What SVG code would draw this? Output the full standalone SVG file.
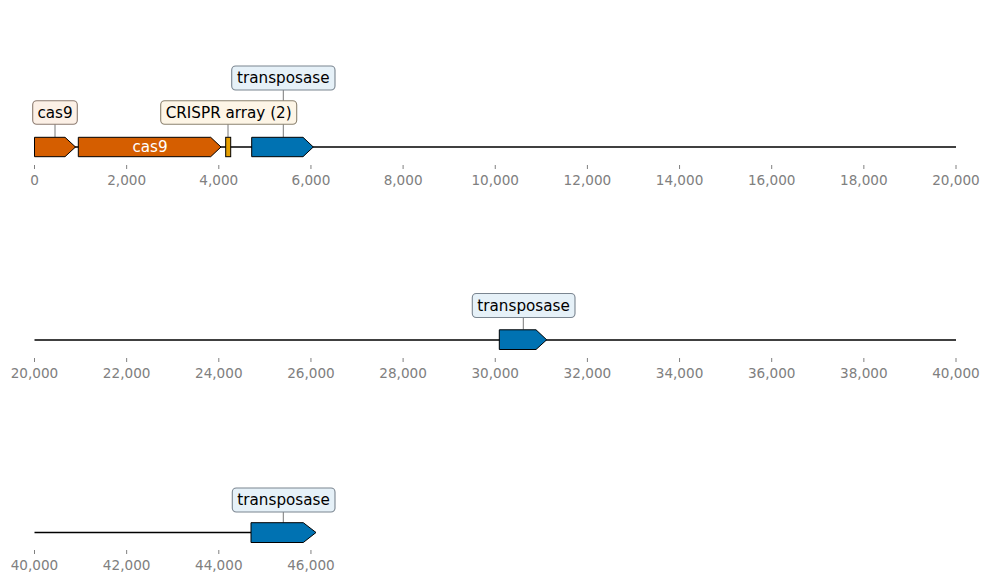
<svg xmlns="http://www.w3.org/2000/svg" width="989" height="584" viewBox="0 0 989 584">
<style>
text{font-family:"DejaVu Sans","Liberation Sans",sans-serif}
.tick{stroke:#808080;stroke-width:1}
.tl{font-size:13.6px;fill:#808080;text-anchor:middle}
.axis{stroke:#000;stroke-width:1.7;fill:none}
.feat{stroke:#000;stroke-width:1;stroke-linejoin:miter}
.lab{font-size:15.2px;fill:#000;text-anchor:middle}
.lead{stroke:#555;stroke-width:0.8}
.box{stroke-width:1.1}
</style>
<rect width="989" height="584" fill="#fff"/>
<g id="connectors">
<line class="lead" x1="55" y1="124" x2="55" y2="137"/>
<line class="lead" x1="228" y1="124" x2="228" y2="137"/>
<line class="lead" x1="283.3" y1="90" x2="283.3" y2="137"/>
<line class="lead" x1="523.3" y1="317.7" x2="523.3" y2="329.5"/>
<line class="lead" x1="283.3" y1="511.7" x2="283.3" y2="522.7"/>
</g>
<g id="row1">
<line class="axis" x1="34.5" y1="147" x2="956" y2="147"/>
<g id="ticks1">
<path class="tick" d="M34.5 165v4M126.65 165v4M218.8 165v4M310.95 165v4M403.1 165v4M495.25 165v4M587.4 165v4M679.55 165v4M771.7 165v4M863.85 165v4M956 165v4"/>
<text class="tl" x="34.5" y="185">0</text>
<text class="tl" x="126.65" y="185">2,000</text>
<text class="tl" x="218.8" y="185">4,000</text>
<text class="tl" x="310.95" y="185">6,000</text>
<text class="tl" x="403.1" y="185">8,000</text>
<text class="tl" x="495.25" y="185">10,000</text>
<text class="tl" x="587.4" y="185">12,000</text>
<text class="tl" x="679.55" y="185">14,000</text>
<text class="tl" x="771.7" y="185">16,000</text>
<text class="tl" x="863.85" y="185">18,000</text>
<text class="tl" x="956" y="185">20,000</text>
</g>
</g>
<g id="cas9_1">
<polygon class="feat" fill="#d55e00" points="34.5,137.3 65,137.3 75.5,147 65,156.7 34.5,156.7"/>
<rect class="box" x="32.7" y="100.7" width="44.6" height="23.6" rx="4" fill="#fcf0e6" stroke="#8c7b70"/>
<text class="lab" x="55" y="117.8">cas9</text>
</g>
<g id="cas9_2">
<polygon class="feat" fill="#d55e00" points="78.3,137.3 210.7,137.3 221,147 210.7,156.7 78.3,156.7"/>
<text class="lab" x="150" y="152.3" style="fill:#fff">cas9</text>
</g>
<g id="crispr">
<rect class="feat" fill="#e69f00" x="225.7" y="137.3" width="5" height="19.4"/>
<rect class="box" x="160.7" y="100.7" width="136" height="23.6" rx="4" fill="#fdf5e6" stroke="#8c8270"/>
<text class="lab" x="228.7" y="117.8">CRISPR array (2)</text>
</g>
<g id="transposase_1">
<polygon class="feat" fill="#0072b2" points="251.7,137.3 303,137.3 313.3,147 303,156.7 251.7,156.7"/>
<rect class="box" x="231.7" y="66" width="103.3" height="24" rx="4" fill="#e6f1f8" stroke="#7a8590"/>
<text class="lab" x="283.3" y="83.3">transposase</text>
</g>
<g id="row2">
<line class="axis" x1="34.5" y1="340" x2="956" y2="340"/>
<g id="ticks2">
<path class="tick" d="M34.5 358v4M126.65 358v4M218.8 358v4M310.95 358v4M403.1 358v4M495.25 358v4M587.4 358v4M679.55 358v4M771.7 358v4M863.85 358v4M956 358v4"/>
<text class="tl" x="34.5" y="378">20,000</text>
<text class="tl" x="126.65" y="378">22,000</text>
<text class="tl" x="218.8" y="378">24,000</text>
<text class="tl" x="310.95" y="378">26,000</text>
<text class="tl" x="403.1" y="378">28,000</text>
<text class="tl" x="495.25" y="378">30,000</text>
<text class="tl" x="587.4" y="378">32,000</text>
<text class="tl" x="679.55" y="378">34,000</text>
<text class="tl" x="771.7" y="378">36,000</text>
<text class="tl" x="863.85" y="378">38,000</text>
<text class="tl" x="956" y="378">40,000</text>
</g>
</g>
<g id="transposase_2">
<polygon class="feat" fill="#0072b2" points="499.3,329.8 536,329.8 546.7,339.8 536,349.5 499.3,349.5"/>
<rect class="box" x="472.3" y="293.5" width="102.7" height="24" rx="4" fill="#e6f1f8" stroke="#7a8590"/>
<text class="lab" x="523.6" y="310.8">transposase</text>
</g>
<g id="row3">
<line class="axis" x1="34.5" y1="532.5" x2="251" y2="532.5"/>
<g id="ticks3">
<path class="tick" d="M34.5 550v4M126.65 550v4M218.8 550v4M310.95 550v4"/>
<text class="tl" x="34.5" y="570">40,000</text>
<text class="tl" x="126.65" y="570">42,000</text>
<text class="tl" x="218.8" y="570">44,000</text>
<text class="tl" x="310.95" y="570">46,000</text>
</g>
</g>
<g id="transposase_3">
<polygon class="feat" fill="#0072b2" points="251,522.7 303.3,522.7 316,532.5 303.3,542.5 251,542.5"/>
<rect class="box" x="232.3" y="488" width="102.7" height="24" rx="4" fill="#e6f1f8" stroke="#7a8590"/>
<text class="lab" x="283.6" y="505.3">transposase</text>
</g>
</svg>
